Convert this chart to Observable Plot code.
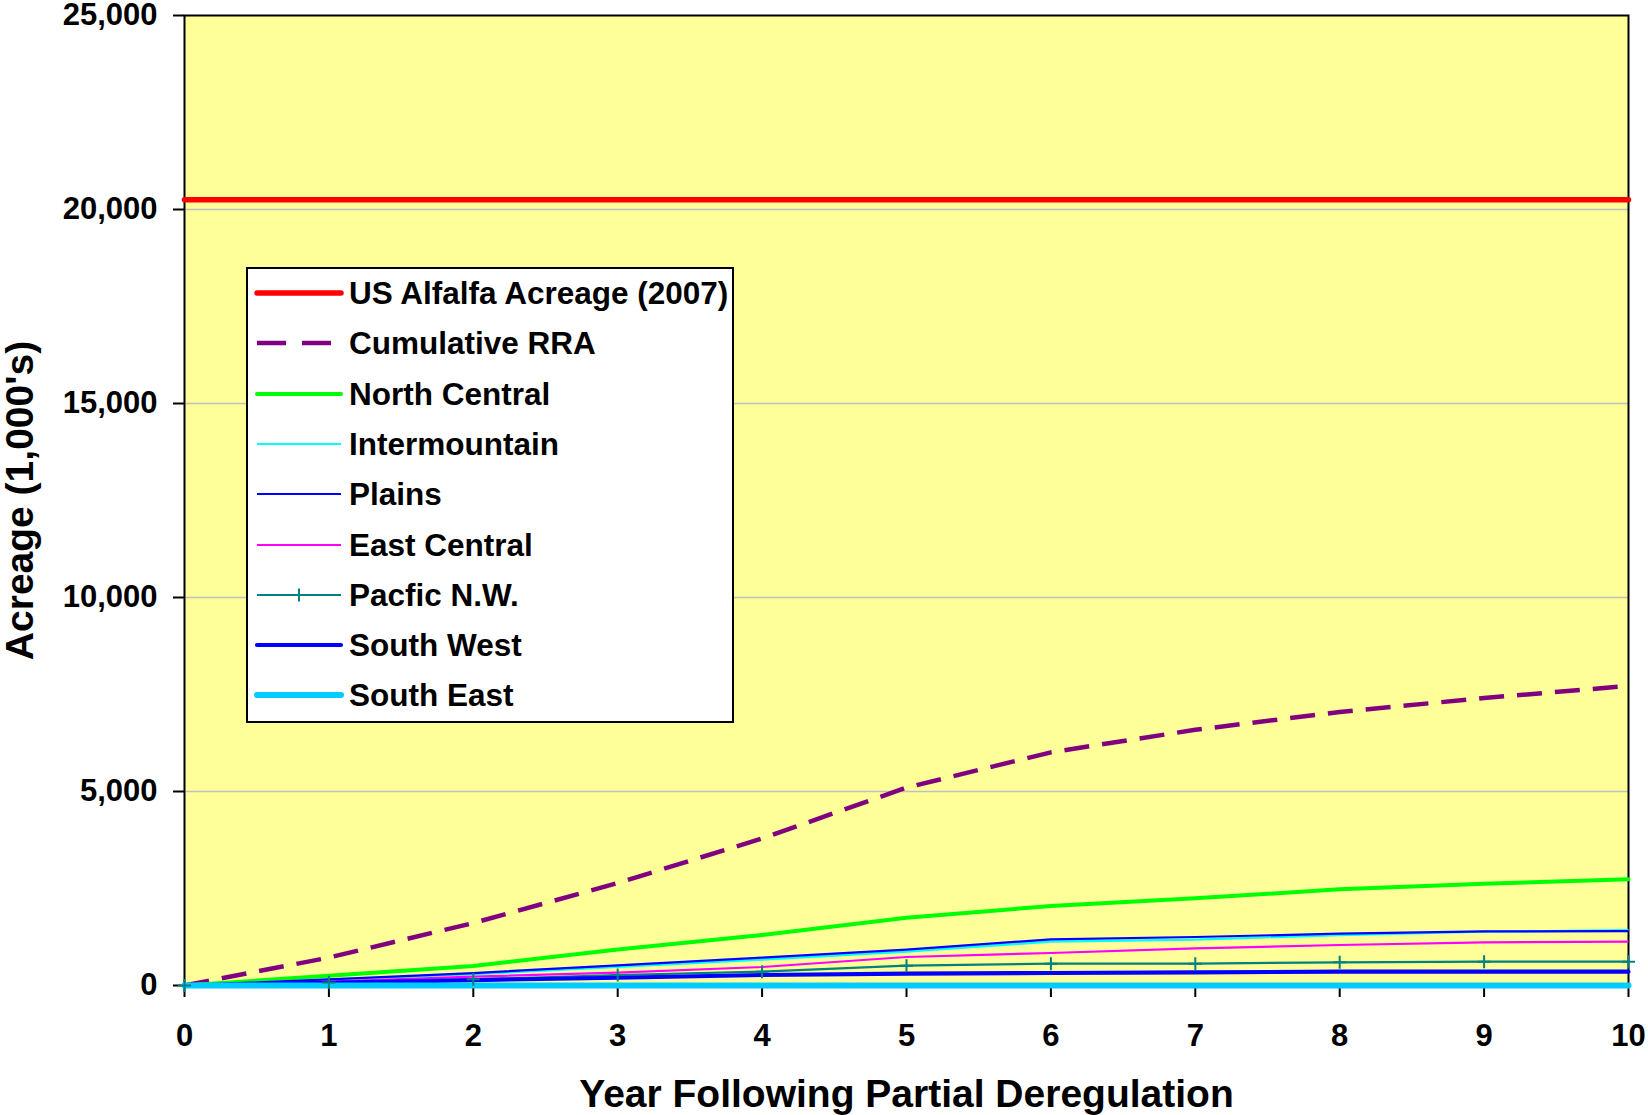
<!DOCTYPE html>
<html>
<head>
<meta charset="utf-8">
<script src="https://cdn.jsdelivr.net/npm/d3@7"></script>
<script src="https://cdn.jsdelivr.net/npm/@observablehq/plot@0.6"></script>
<style>
  body { margin: 0; background: #fff; }
  #chart { position: relative; width: 1648px; height: 1115px; font-family: "Liberation Sans", Arial, sans-serif; color: #000; }
  #chart svg { display: block; overflow: visible; }
  .legend { position: absolute; left: 246px; top: 267px; width: 488px; height: 456px; box-sizing: border-box;
            border: 2px solid #000; background: #fff; }
  .legend .row { position: absolute; left: 0; width: 100%; height: 44px; }
  .legend .row svg { position: absolute; left: 0; top: 0; }
  .legend .row span { position: absolute; left: 101px; top: 0; line-height: 44px; font-size: 31.5px; font-weight: bold; white-space: nowrap; }
</style>
</head>
<body>
<div id="chart"></div>
<script>
// Years after partial deregulation
const years = [0, 1, 2, 3, 4, 5, 6, 7, 8, 9, 10];

// Acreage in thousands of acres, by year
const usAlfalfa2007 = [20250, 20250, 20250, 20250, 20250, 20250, 20250, 20250, 20250, 20250, 20250];
const cumulativeRRA = [0, 720, 1610, 2640, 3790, 5100, 6010, 6590, 7050, 7410, 7720];
const northCentral  = [0, 250, 503, 930, 1302, 1747, 2049, 2247, 2479, 2624, 2737];
const intermountain = [0, 150, 290, 480, 665, 871, 1129, 1180, 1300, 1385, 1425];
const plains        = [0, 160, 320, 520, 716, 923, 1191, 1250, 1335, 1395, 1400];
const eastCentral   = [0, 100, 230, 330, 477, 735, 838, 959, 1044, 1113, 1129];
const pacificNW     = [0, 80, 160, 270, 356, 510, 562, 562, 598, 613, 613];
const southWest     = [0, 70, 140, 200, 271, 304, 322, 340, 356, 356, 356];
const southEast     = [0, 0, 0, 0, 0, 0, 0, 0, 0, 0, 0];

const seriesNames = [
  "US Alfalfa Acreage (2007)", "Cumulative RRA", "North Central", "Intermountain",
  "Plains", "East Central", "Pacfic N.W.", "South West", "South East"
];
const seriesValues = [
  usAlfalfa2007, cumulativeRRA, northCentral, intermountain,
  plains, eastCentral, pacificNW, southWest, southEast
];

const yTicks = [0, 5000, 10000, 15000, 20000, 25000];
const xTicks = years;
const xTitle = "Year Following Partial Deregulation";
const yTitle = "Acreage (1,000's)";

// Line styling per series
const lineStyle = {
  "US Alfalfa Acreage (2007)": { stroke: "#ff0000", width: 5.5, cap: "round" },
  "Cumulative RRA":            { stroke: "#800080", width: 4.5, dash: "25,13", cap: "butt" },
  "North Central":             { stroke: "#00ff00", width: 4, cap: "round" },
  "Intermountain":             { stroke: "#00ffff", width: 2.2, cap: "butt" },
  "Plains":                    { stroke: "#0000ff", width: 2.2, cap: "butt" },
  "East Central":              { stroke: "#ff00ff", width: 2.2, cap: "butt" },
  "Pacfic N.W.":               { stroke: "#008080", width: 2.2, cap: "butt", marker: true },
  "South West":                { stroke: "#0000ff", width: 4.2, cap: "round" },
  "South East":                { stroke: "#00ccff", width: 6, cap: "round" }
};

const rows = seriesNames.flatMap((name, i) =>
  years.map((year, j) => ({ series: name, year, value: seriesValues[i][j] }))
);

const lineMarks = seriesNames.map(name => {
  const s = lineStyle[name];
  return Plot.line(rows.filter(d => d.series === name), {
    x: "year", y: "value",
    stroke: s.stroke, strokeWidth: s.width,
    strokeDasharray: s.dash, strokeLinecap: s.cap, strokeLinejoin: "round"
  });
});

const markerMarks = seriesNames.filter(n => lineStyle[n].marker).map(name =>
  Plot.dot(rows.filter(d => d.series === name), {
    x: "year", y: "value", symbol: "plus", r: 4.3,
    stroke: lineStyle[name].stroke, strokeWidth: 2
  })
);

const chart = Plot.plot({
  width: 1648,
  height: 1115,
  marginLeft: 184,
  marginRight: 20,
  marginTop: 15,
  marginBottom: 130,
  style: { background: "#ffffff", color: "#000", fontFamily: "'Liberation Sans', Arial, sans-serif" },
  x: { domain: [0, 10] },
  y: { domain: [0, 25000] },
  marks: [
    Plot.frame({ fill: "#ffff99" }),
    Plot.gridY(yTicks.filter(t => t > 0 && t < 25000), { stroke: "#c0c0c0", strokeOpacity: 1, strokeWidth: 1.5 }),
    Plot.frame({ stroke: "#000", strokeWidth: 2 }),
    Plot.axisY({
      ticks: yTicks, tickSize: 11, tickPadding: 16, tickFormat: d3.format(","),
      fontSize: 31, fontWeight: "bold", strokeWidth: 2, label: null
    }),
    Plot.axisX({
      ticks: xTicks, tickSize: 12, tickPadding: 26, tickFormat: d3.format("d"),
      fontSize: 31, fontWeight: "bold", strokeWidth: 2, label: null
    }),
    ...lineMarks,
    ...markerMarks,
    Plot.text([xTitle], { text: d => d, frameAnchor: "bottom", dy: 121, fontSize: 39, fontWeight: "bold" }),
    Plot.text([yTitle], { text: d => d, frameAnchor: "left", textAnchor: "middle", dx: -164, rotate: -90, fontSize: 39, fontWeight: "bold" })
  ]
});

const root = document.getElementById("chart");
root.appendChild(chart);

// Legend box drawn over the plotting area
const legend = document.createElement("div");
legend.className = "legend";
seriesNames.forEach((name, i) => {
  const s = lineStyle[name];
  const row = document.createElement("div");
  row.className = "row";
  row.style.top = (26 + i * 50.3 - 22 - 2) + "px";
  const svg = d3.create("svg").attr("width", 100).attr("height", 44);
  svg.append("line")
    .attr("x1", 9).attr("x2", 93).attr("y1", 22).attr("y2", 22)
    .attr("stroke", s.stroke).attr("stroke-width", s.width)
    .attr("stroke-linecap", s.cap)
    .attr("stroke-dasharray", s.dash ? "29,16" : null);
  if (s.marker) {
    svg.append("path").attr("d", "M51,15.5V28.5M44.5,22H57.5")
      .attr("stroke", s.stroke).attr("stroke-width", 2);
  }
  row.appendChild(svg.node());
  const label = document.createElement("span");
  label.textContent = name;
  row.appendChild(label);
  legend.appendChild(row);
});
root.appendChild(legend);
</script>
</body>
</html>
